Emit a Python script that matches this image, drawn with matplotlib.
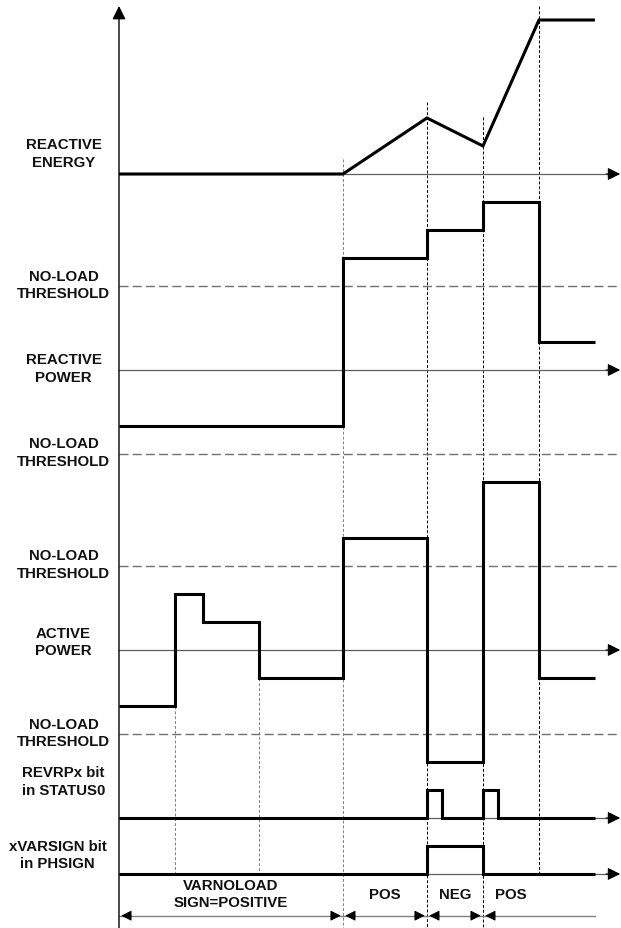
import numpy as np
import matplotlib.pyplot as plt

# signal data, in grid units (time along x, level along y)
t_energy = [0, 8, 11, 13, 15, 17]
energy = [0, 0, 2, 1, 5.5, 5.5]

t_var = [0, 8, 11, 13, 15, 17]
var_power = [-2, 4, 5, 6, 1, 1]

t_watt = [0, 2, 3, 5, 8, 11, 13, 15, 17]
watt_power = [-2, 2, 1, -1, 4, -4, 6, -1, -1]

no_load = 3

t_revrp = [0, 11, 11.55, 13, 13.55, 17]
revrp = [0, 1, 0, 1, 0, 0]

t_varsign = [0, 11, 13, 17]
varsign = [0, 1, 0, 0]

events = [2, 5, 8, 11, 13, 15]
sign_edges = [0, 8, 11, 13, 15, 17]
sign_labels = ['VARNOLOAD\nSIGN=POSITIVE', 'POS', 'NEG', 'POS']

# layout
base = {'energy': -6.25, 'var': -13.25, 'watt': -23.25, 'revrp': -29.25, 'sign': -31.25}
x_end = 17.93
y_bottom = -33.18
font = dict(family=['Liberation Sans', 'DejaVu Sans'], weight='bold', size=10.8,
            color='#111111', ha='center', va='center', linespacing=1.28)
trace = dict(color='black', lw=2.2, solid_joinstyle='miter', solid_capstyle='butt')

fig = plt.figure(figsize=(6.21, 9.29), dpi=100)
ax = fig.add_axes([0, 0, 1, 1])
ax.set_xlim(-4.25, x_end)
ax.set_ylim(y_bottom, 0)
ax.axis('off')

#vertical guide lines at each event
guide_top = {2: base['watt'] - 2, 5: base['watt'] - 1, 8: -5.71, 11: -3.68, 13: -4.21, 15: -0.25}
guide_bot = {2: base['sign'], 5: base['sign'], 8: y_bottom, 11: y_bottom, 13: y_bottom, 15: base['sign']}
guide_col = {2: '#808080', 5: '#808080', 8: '#808080', 11: 'black', 13: 'black', 15: 'black'}
for t in events:
    ax.plot([t, t], [guide_top[t], guide_bot[t]], color=guide_col[t], lw=0.7, dashes=(3, 2))

#no-load threshold lines
for key in ['var', 'watt']:
    for s in [1, -1]:
        ax.plot([0, x_end], [base[key] + s * no_load] * 2, color='#707070', lw=1.0, dashes=(6.5, 3))

#horizontal time axes with arrows
for key in ['energy', 'var', 'watt', 'revrp', 'sign']:
    y = base[key]
    ax.plot([0, 17.6], [y, y], color='#606060', lw=0.9)
    ax.annotate('', xy=(x_end - 0.03, y), xytext=(17.4, y),
                arrowprops=dict(arrowstyle='-|>', color='black', lw=0.8,
                                shrinkA=0, shrinkB=0, mutation_scale=19))

#vertical axis
ax.annotate('', xy=(0, -0.25), xytext=(0, y_bottom),
            arrowprops=dict(arrowstyle='-|>', color='black', lw=1.0,
                            shrinkA=0, shrinkB=0, mutation_scale=20))

#signals
ax.plot(t_energy, np.array(energy) + base['energy'], **trace)
ax.plot(t_var, np.array(var_power) + base['var'], drawstyle='steps-post', **trace)
ax.plot(t_watt, np.array(watt_power) + base['watt'], drawstyle='steps-post', **trace)
ax.plot(t_revrp, np.array(revrp) + base['revrp'], drawstyle='steps-post', **trace)
ax.plot(t_varsign, np.array(varsign) + base['sign'], drawstyle='steps-post', **trace)

#row labels
lx = -1.98
ax.text(lx, base['energy'] + 0.75, 'REACTIVE\nENERGY', **font)
ax.text(lx, base['var'] + no_load + 0.06, 'NO-LOAD\nTHRESHOLD', **font)
ax.text(lx, base['var'] + 0.07, 'REACTIVE\nPOWER', **font)
ax.text(lx, base['var'] - no_load + 0.07, 'NO-LOAD\nTHRESHOLD', **font)
ax.text(lx, base['watt'] + no_load + 0.07, 'NO-LOAD\nTHRESHOLD', **font)
ax.text(lx, base['watt'] + 0.29, 'ACTIVE\nPOWER', **font)
ax.text(lx, base['watt'] - no_load + 0.04, 'NO-LOAD\nTHRESHOLD', **font)
ax.text(lx, base['revrp'] + 1.32, 'REVRPx bit\nin STATUS0', **font)
ax.text(-2.2, base['sign'] + 0.68, 'xVARSIGN bit\nin PHSIGN', **font)

#sign intervals with dimension arrows
ya = -32.74
for i, lab in enumerate(sign_labels):
    a, b = sign_edges[i], sign_edges[i + 1]
    ax.text((a + b) / 2, -31.96, lab, **font)
last = len(sign_labels) - 1
for i in range(len(sign_labels)):
    a = sign_edges[i]
    b = sign_edges[i + 2] if i == last else sign_edges[i + 1]
    ax.plot([a, b], [ya, ya], color='#808080', lw=1.0)
    heads = [a + 0.08] if i == last else [a + 0.08, b - 0.08]
    for h in heads:
        d = 0.35 if h < (a + b) / 2 else -0.35
        ax.annotate('', xy=(h, ya), xytext=(h + d, ya),
                    arrowprops=dict(arrowstyle='-|>', color='black', lw=0.6,
                                    shrinkA=0, shrinkB=0, mutation_scale=16))

plt.savefig('out.png', dpi=100)
